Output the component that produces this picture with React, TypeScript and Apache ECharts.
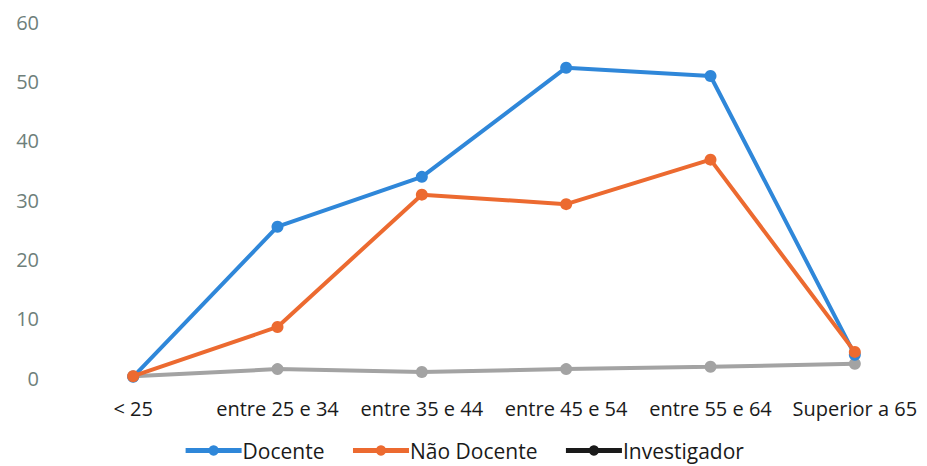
import React, { useEffect, useRef } from "react";
import * as echarts from "echarts";

const categories = ["< 25", "entre 25 e 34", "entre 35 e 44", "entre 45 e 54", "entre 55 e 64", "Superior a 65"];
const docente = [0.2, 25.5, 33.9, 52.3, 50.9, 3.9];
const naoDocente = [0.3, 8.6, 30.9, 29.3, 36.8, 4.4];
const investigador = [0.3, 1.5, 1.0, 1.5, 1.9, 2.4];
const seriesNames = ["Docente", "Não Docente", "Investigador"];
const yTicks = { min: 0, max: 60, interval: 10 };

const FONT = "'Open Sans', sans-serif";

export default function App() {
  const ref = useRef<HTMLDivElement>(null);
  useEffect(() => {
    if (!ref.current) return;
    const chart = echarts.init(ref.current, null, { renderer: "svg" });
    const mk = (name: string, data: number[], color: string, z: number) => ({
      name,
      type: "line",
      data,
      z,
      symbol: "circle",
      symbolSize: 12,
      lineStyle: { color, width: 4 },
      itemStyle: { color },
    });
    chart.setOption({
      animation: false,
      backgroundColor: "#ffffff",
      grid: { left: 61, right: 0, top: 22, bottom: 88, containLabel: false },
      legend: {
        bottom: 0,
        left: "center",
        itemWidth: 56,
        itemHeight: 13,
        itemGap: 26,
        textStyle: { fontFamily: FONT, fontSize: 21, color: "#1a1a1a", padding: [0, 0, 0, -4] },
        data: [
          { name: seriesNames[0], lineStyle: { width: 5 } },
          { name: seriesNames[1], lineStyle: { width: 5 } },
          { name: seriesNames[2], itemStyle: { color: "#1a1a1a" }, lineStyle: { color: "#1a1a1a", width: 5 } },
        ],
      },
      xAxis: {
        type: "category",
        data: categories,
        boundaryGap: true,
        axisLine: { show: false },
        axisTick: { show: false },
        axisLabel: { fontFamily: FONT, fontSize: 20, color: "#1a1a1a", margin: 20, interval: 0 },
      },
      yAxis: {
        type: "value",
        min: yTicks.min,
        max: yTicks.max,
        interval: yTicks.interval,
        splitLine: { show: false },
        axisLine: { show: false },
        axisTick: { show: false },
        axisLabel: { fontFamily: FONT, fontSize: 20, color: "#6e7f7b", margin: 22 },
      },
      series: [
        mk(seriesNames[2], investigador, "#a3a3a3", 2),
        mk(seriesNames[0], docente, "#2f87d9", 3),
        mk(seriesNames[1], naoDocente, "#ec6a30", 4),
      ],
    });
    return () => chart.dispose();
  }, []);
  return <div ref={ref} style={{ width: 927, height: 466, marginLeft: -8, marginTop: -8 }} />;
}
